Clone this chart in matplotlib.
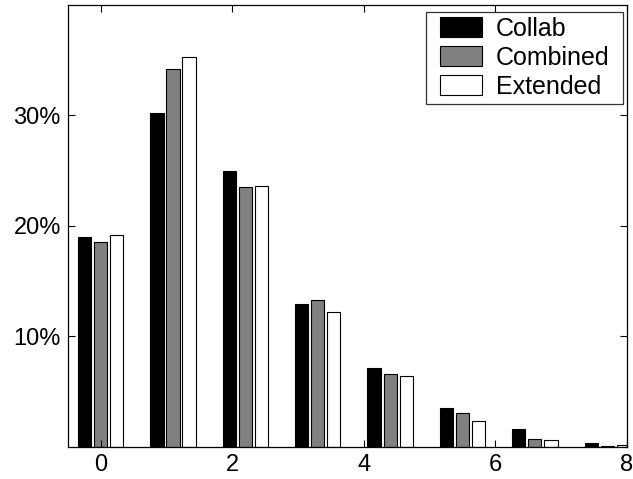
import matplotlib
matplotlib.use("Agg")
import matplotlib.pyplot as plt
import numpy as np
from matplotlib.ticker import FuncFormatter
from matplotlib.path import Path

plt.rcParams['font.family'] = ['Liberation Sans', 'DejaVu Sans']

# Data
x_pos = [0.0, 1.1, 2.2, 3.3, 4.4, 5.5, 6.6, 7.7]
series_names = ["Collab", "Combined", "Extended"]
collab = [19.0, 30.2, 25.0, 12.9, 7.1, 3.5, 1.6, 0.36]
combined = [18.5, 34.2, 23.5, 13.3, 6.6, 3.05, 0.7, 0.06]
extended = [19.2, 35.3, 23.6, 12.2, 6.4, 2.35, 0.63, 0.15]
colors = ["#000000", "#808080", "#ffffff"]
x_ticks = [0, 2, 4, 6, 8]
y_ticks = [10, 20, 30]

fig = plt.figure(figsize=(6.33, 4.79), dpi=100)
ax = fig.add_axes([0.107, 0.0674, 0.8835, 0.9222])

x = np.array(x_pos)
step = 0.244
width = 0.2
for i, (vals, name, c) in enumerate(zip([collab, combined, extended], series_names, colors)):
    ax.bar(x + (i - 1) * step, vals, width=width, color=c, edgecolor="black",
           linewidth=0.8, label=name)

ax.set_xlim(-0.5, 8)
ax.set_ylim(0, 40)
ax.set_xticks(x_ticks)
ax.set_yticks(y_ticks)
ax.yaxis.set_major_formatter(FuncFormatter(lambda v, p: f"{int(v)}%"))
ax.tick_params(direction="in", top=True, right=True, length=5, width=0.8,
               labelsize=17, pad=5)
for s in ax.spines.values():
    s.set_linewidth(0.9)


def wide_box(x0, y0, w, h, mutation_size):
    # extra horizontal padding (pixels) around the legend content
    ex = 0.36 * mutation_size
    return Path([(x0 - ex, y0), (x0 + w + ex, y0), (x0 + w + ex, y0 + h),
                 (x0 - ex, y0 + h), (x0 - ex, y0)], closed=True)


leg = ax.legend(loc="upper right", bbox_to_anchor=(0.9772, 0.9848),
                fontsize=18, frameon=True, fancybox=False,
                edgecolor="black", handlelength=1.68, handleheight=0.84,
                borderaxespad=0.0, labelspacing=0.2, handletextpad=0.56,
                borderpad=0.2)
leg.get_frame().set_linewidth(0.9)
leg.get_frame().set_boxstyle(wide_box)

fig.savefig("out.png", dpi=100)
